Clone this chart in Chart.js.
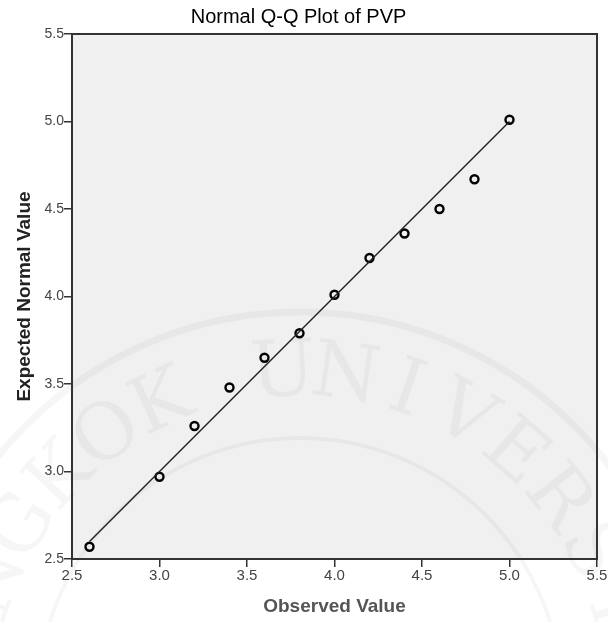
<!DOCTYPE html>
<html lang="en">
<head>
  <meta charset="UTF-8">
  <title>Normal Q-Q Plot of PVP</title>
  <script src="https://cdn.jsdelivr.net/npm/chart.js"></script>
  <style>
    html, body { margin: 0; padding: 0; background: #fff; }
    #qqChart { display: block; }
  </style>
</head>
<body>
  <canvas id="qqChart" width="608" height="622"></canvas>

  <script>
    // observed PVP scores and their expected normal quantiles
    const observed = [2.6, 3.0, 3.2, 3.4, 3.6, 3.8, 4.0, 4.2, 4.4, 4.6, 4.8, 5.0];
    const expected = [2.57, 2.97, 3.26, 3.48, 3.65, 3.79, 4.01, 4.22, 4.36, 4.50, 4.67, 5.01];
    // y = x reference line, drawn between min and max observed
    const refLine = [2.6, 5.0];
    const axisTicks = [2.5, 3.0, 3.5, 4.0, 4.5, 5.0, 5.5];

    const FONT = "'Liberation Sans', Arial, sans-serif";

    // grey plot background and dark frame round the chart area
    const framePlugin = {
      id: 'frame',
      beforeDraw(chart) {
        const { ctx, chartArea: a } = chart;
        ctx.save();
        ctx.fillStyle = '#fff';
        ctx.fillRect(0, 0, chart.width, chart.height);
        ctx.fillStyle = '#f0f0f0';
        ctx.fillRect(a.left, a.top, a.right - a.left, a.bottom - a.top);
        ctx.restore();
      },
      afterDraw(chart) {
        const { ctx, chartArea: a } = chart;
        ctx.save();
        ctx.strokeStyle = '#333';
        ctx.lineWidth = 2;
        ctx.strokeRect(a.left, a.top, a.right - a.left, a.bottom - a.top);
        ctx.restore();
      }
    };

    // faint university seal behind the data: ring plus lettering on an arc
    const sealPlugin = {
      id: 'seal',
      beforeDatasetsDraw(chart) {
        const ctx = chart.ctx;
        const cx = 300, cy = 700;
        ctx.save();
        ctx.strokeStyle = 'rgba(0,0,0,0.035)';
        ctx.lineWidth = 7;
        ctx.beginPath();
        ctx.arc(cx, cy, 388, 0, Math.PI * 2);
        ctx.stroke();
        ctx.lineWidth = 4;
        ctx.beginPath();
        ctx.arc(cx, cy, 262, 0, Math.PI * 2);
        ctx.stroke();

        ctx.fillStyle = 'rgba(0,0,0,0.035)';
        ctx.font = "78px 'DejaVu Serif', 'Liberation Serif', serif";
        ctx.textAlign = 'center';
        ctx.textBaseline = 'middle';
        const word = 'BANGKOK UNIVERSITY';
        for (let i = 0; i < word.length; i++) {
          const ang = (-115 + (i - 6) * 11) * Math.PI / 180;
          ctx.save();
          ctx.translate(cx + 325 * Math.cos(ang), cy + 325 * Math.sin(ang));
          ctx.rotate(ang + Math.PI / 2);
          ctx.fillText(word[i], 0, 0);
          ctx.restore();
        }
        ctx.restore();
      }
    };

    function axis(isX) {
      return {
        type: 'linear',
        min: axisTicks[0],
        max: axisTicks[axisTicks.length - 1],
        afterBuildTicks: s => { s.ticks = axisTicks.map(v => ({ value: v })); },
        afterFit: s => {
          if (isX) s.height = 63; else s.width = 72;
        },
        grid: {
          drawOnChartArea: false,
          drawTicks: true,
          tickLength: 8,
          color: '#333',
          lineWidth: 1.5
        },
        border: { display: false },
        ticks: {
          padding: 0,
          color: '#444',
          font: { family: FONT, size: isX ? 15 : 14 },
          callback: v => Number(v).toFixed(1)
        },
        title: {
          display: true,
          text: isX ? 'Observed Value' : 'Expected Normal Value',
          color: isX ? '#555' : '#222',
          font: { family: FONT, size: 19, weight: 'bold' },
          padding: isX ? { top: 0, bottom: 4 } : { top: 13, bottom: 0 }
        }
      };
    }

    new Chart(document.getElementById('qqChart'), {
      type: 'scatter',
      data: {
        datasets: [
          {
            type: 'line',
            data: refLine.map(v => ({ x: v, y: v })),
            borderColor: '#222',
            borderWidth: 1.4,
            pointRadius: 0,
            fill: false
          },
          {
            data: observed.map((v, i) => ({ x: v, y: expected[i] })),
            pointStyle: 'circle',
            pointRadius: 4,
            borderWidth: 2.4,
            borderColor: '#000',
            backgroundColor: 'rgba(0,0,0,0)'
          }
        ]
      },
      options: {
        responsive: false,
        devicePixelRatio: 1,
        animation: false,
        layout: { padding: { top: 0, right: 11, bottom: 0, left: 0 } },
        plugins: {
          legend: { display: false },
          tooltip: { enabled: false },
          title: {
            display: true,
            text: 'Normal Q-Q Plot of PVP',
            color: '#000',
            font: { family: FONT, size: 20, weight: 'normal' },
            padding: { top: 5, bottom: 5 }
          }
        },
        scales: { x: axis(true), y: axis(false) }
      },
      plugins: [framePlugin, sealPlugin]
    });
  </script>
</body>
</html>
